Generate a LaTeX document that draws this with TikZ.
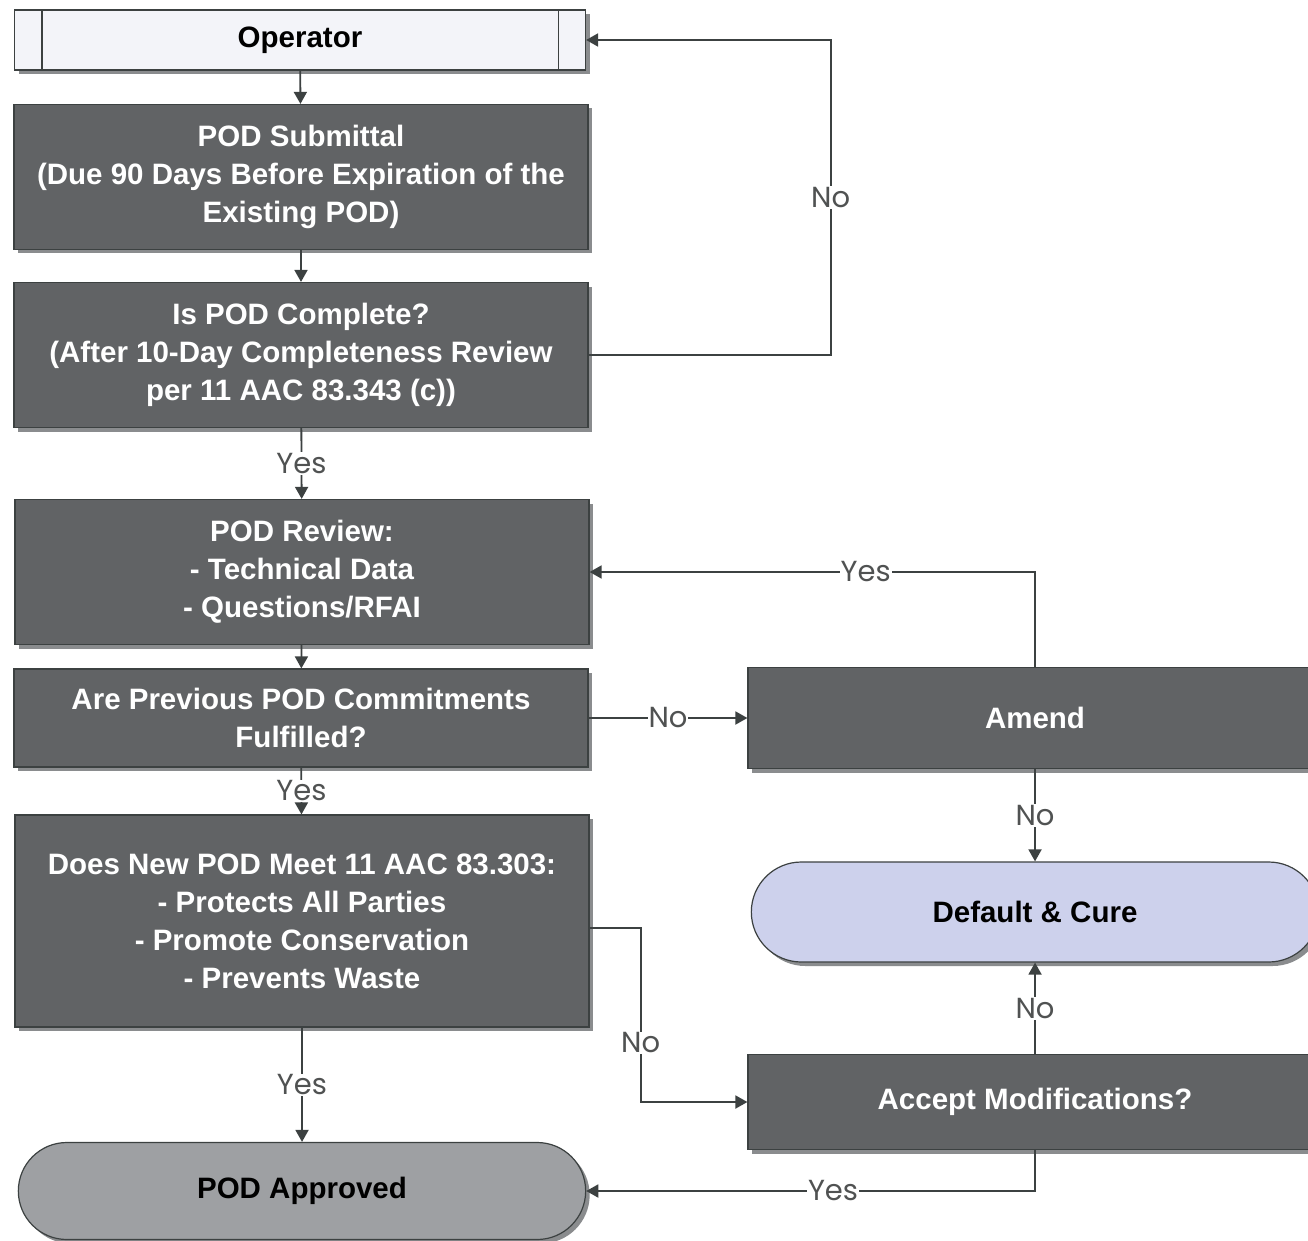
\documentclass[tikz,border=0pt]{standalone}
\usepackage{fontspec}
\setmainfont{Liberation Sans}
\newfontfamily\labelfont{Poppins}
\usepackage{xcolor}
\usetikzlibrary{arrows.meta, positioning, shapes.misc, shadows}
\definecolor{boxgray}{HTML}{616365}
\definecolor{shadowgray}{HTML}{8A8C8E}
\definecolor{pillgray}{HTML}{9EA0A3}
\definecolor{curelav}{HTML}{CDD1EC}
\definecolor{opwhite}{HTML}{F3F4F9}
\definecolor{linegray}{HTML}{3C4141}
\definecolor{labelgray}{HTML}{505252}

\begin{document}
\begin{tikzpicture}[
  x=1pt, y=-1pt,
  box/.style      = {rectangle, draw=linegray, line width=1.2pt, fill=boxgray,
                     text=white, align=center, minimum width=574pt,
                     font=\fontsize{29.5}{38}\selectfont\bfseries,
                     drop shadow={shadow xshift=4pt, shadow yshift=-4pt,
                                  fill=shadowgray, opacity=1}},
  pill/.style     = {box, rounded rectangle, text=black},
  arrow/.style    = {-{Triangle[length=12pt, width=13pt]}, line width=1.8pt, color=linegray},
  lbl/.style      = {font=\labelfont\fontsize{29}{30}\selectfont, text=labelgray,
                     fill=white, inner sep=1pt},
]
\clip (0,0) rectangle (1308,1241);
\fill[white] (0,0) rectangle (1308,1241);

% Nodes
\node[box, fill=opwhite, text=black, minimum width=571pt, minimum height=60pt] (op) at (300,40) {Operator};
\node[box, minimum height=145pt] (sub)    at (301,177) {POD Submittal\\(Due 90 Days Before Expiration of the\\Existing POD)};
\node[box, minimum height=145pt] (compl)  at (301,355) {Is POD Complete?\\(After 10-Day Completeness Review\\per 11 AAC 83.343 (c))};
\node[box, minimum height=145pt] (review) at (302,572) {POD Review:\\- Technical Data\\- Questions/RFAI};
\node[box, minimum height=98pt]  (prev)   at (301,718) {Are Previous POD Commitments\\Fulfilled?};
\node[box, minimum height=212pt] (meet)   at (302,921) {Does New POD Meet 11 AAC 83.303:\\- Protects All Parties\\- Promote Conservation\\- Prevents Waste};
\node[pill, fill=pillgray, minimum height=97pt] (appr) at (302,1191) {POD Approved};
\node[box, minimum height=101pt] (amend)  at (1035,718) {Amend};
\node[pill, fill=curelav, minimum height=100pt] (cure) at (1035,912) {Default \& Cure};
\node[box, minimum height=95pt]  (accept) at (1035,1102) {Accept Modifications?};

% Operator side bars
\draw[linegray, line width=1.2pt] ([xshift=28pt]op.north west) -- ([xshift=28pt]op.south west);
\draw[linegray, line width=1.2pt] ([xshift=-28pt]op.north east) -- ([xshift=-28pt]op.south east);

% Arrows
\draw[arrow] (op)     -- (sub);
\draw[arrow] (sub)    -- (compl);
\draw[arrow] (compl)  -- node[lbl]{Yes} (review);
\draw[arrow] (review) -- (prev);
\draw[arrow] (prev)   -- node[lbl]{Yes} (meet);
\draw[arrow] (meet)   -- node[lbl]{Yes} (appr);
\draw[arrow] (compl.east) -- ++(242,0) |- node[lbl, pos=0.25]{No} (op.east);
\draw[arrow] (prev.east)  -- node[lbl]{No} (amend.west);
\draw[arrow] (amend.north) |- node[lbl, pos=0.69]{Yes} (review.east);
\draw[arrow] (amend)  -- node[lbl]{No} (cure);
\draw[arrow] (meet.east) ++(0,7) -- ++(51,0) |- node[lbl, pos=0.33]{No} (accept.west);
\draw[arrow] (accept) -- node[lbl]{No} (cure);
\draw[arrow] (accept.south) |- node[lbl, pos=0.725]{Yes} (appr.east);
\end{tikzpicture}
\end{document}
